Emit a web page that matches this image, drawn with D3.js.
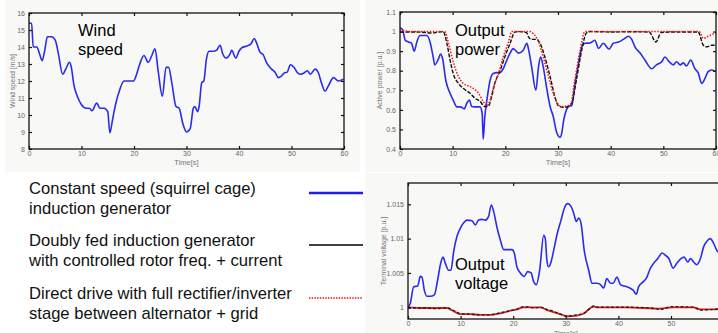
<!DOCTYPE html>
<html>
<head>
<meta charset="utf-8">
<script src="https://cdn.jsdelivr.net/npm/d3@7"></script>
<style>
  body { margin: 0; background: #fff; }
  svg { display: block; font-family: "Liberation Sans", Arial, sans-serif; }
</style>
</head>
<body>
<div id="chart"></div>
<script>
// time axis shared by all three plots
const timeTicks = [0, 10, 20, 30, 40, 50, 60];

// wind speed [m/s] as [time, value]
const windSpeed = [
  [0, 15.4], [0.5, 15.4], [0.8, 14.0], [1.5, 14.0], [2, 13.6], [2.5, 13.2], [3, 13.8], [3.5, 14.6],
  [4.3, 14.6], [5, 14.4], [5.6, 13.6], [6.4, 12.4], [7, 12.7], [7.7, 13.1], [8, 12.9], [8.6, 11.7],
  [9.2, 11.1], [10, 10.6], [10.9, 10.4], [11.5, 10.4], [12, 10.25], [12.9, 10.7], [13.5, 10.4],
  [14.3, 10.4], [15, 10.2], [15.4, 8.95], [15.9, 9.7], [16.4, 10.5], [17.3, 11.5], [18.1, 12.0],
  [19.2, 12.0], [19.9, 12.0], [20.5, 12.4], [21.1, 13.0], [21.9, 13.5], [22.7, 13.1], [23.4, 13.5],
  [24, 13.9], [24.6, 12.6], [25.4, 11.1], [26.1, 12.8], [26.6, 12.8], [27.2, 11.9], [28, 10.5],
  [28.6, 10.4], [29.3, 9.5], [30, 9.0], [30.7, 9.2], [31.3, 10.4], [31.6, 10.5], [32.1, 10.2],
  [32.4, 10.5], [32.9, 11.9], [33.3, 12.0], [33.8, 13.3], [34.3, 13.75], [35.1, 13.75], [35.7, 13.8],
  [36.4, 14.1], [36.9, 13.6], [37.5, 13.35], [38.3, 13.6], [38.6, 13.8], [39.4, 13.35], [40, 13.75],
  [40.5, 13.95], [41.4, 14.05], [42.2, 14.15], [42.9, 14.5], [43.4, 14.2], [44, 13.7], [44.6, 13.55],
  [45.3, 13.05], [46.2, 12.7], [46.9, 12.5], [47.5, 12.2], [48.1, 12.3], [48.8, 12.5], [49.1, 12.5],
  [49.8, 12.95], [50.5, 12.8], [51.1, 12.5], [51.7, 12.4], [52.3, 12.45], [53, 12.6], [53.6, 12.4],
  [54.5, 12.7], [55.1, 12.5], [55.7, 11.9], [56.4, 11.4], [57, 11.7], [58, 12.2], [58.9, 12.0], [59.9, 12.1]
];
const windTicks = [8, 9, 10, 11, 12, 13, 14, 15, 16];

// active power [p.u.]
const powerSquirrel = [
  [0, 1.02], [0.5, 1.01], [1, 0.955], [1.6, 0.947], [2.2, 0.94], [2.7, 0.9], [3.2, 0.947], [3.8, 0.98],
  [5.1, 0.98], [5.7, 0.947], [6.3, 0.87], [6.6, 0.83], [7.3, 0.86], [7.7, 0.885], [8.1, 0.86],
  [8.7, 0.75], [9.5, 0.685], [10.1, 0.65], [10.8, 0.615], [11.5, 0.615], [12.2, 0.605], [12.7, 0.635],
  [13.2, 0.65], [13.6, 0.617], [14.2, 0.615], [15.2, 0.615], [15.6, 0.583], [15.8, 0.45], [16.1, 0.565],
  [16.5, 0.65], [17.1, 0.75], [17.7, 0.786], [18.4, 0.79], [19, 0.79], [19.6, 0.81], [20.3, 0.855],
  [20.9, 0.89], [21.5, 0.913], [22.5, 0.89], [23.4, 0.905], [24.1, 0.94], [24.4, 0.91], [25, 0.82],
  [25.8, 0.7], [26.3, 0.82], [26.7, 0.87], [27.2, 0.82], [27.8, 0.72], [28.5, 0.617], [29.1, 0.566],
  [29.7, 0.49], [30.4, 0.46], [30.7, 0.48], [31.1, 0.55], [31.6, 0.6], [32.2, 0.62], [32.6, 0.62],
  [33.2, 0.727], [33.9, 0.837], [34.5, 0.92], [35.1, 0.94], [36.1, 0.942], [37, 0.956], [37.7, 0.914],
  [38.6, 0.94], [39.7, 0.91], [40.5, 0.94], [41.5, 0.947], [42.4, 0.96], [43.4, 0.976], [44, 0.96],
  [44.6, 0.922], [45.6, 0.89], [46.5, 0.855], [47.8, 0.81], [48.7, 0.83], [49.7, 0.846], [50.3, 0.87],
  [51.1, 0.846], [51.9, 0.83], [52.5, 0.846], [53.2, 0.83], [53.8, 0.84], [54.4, 0.824], [55.2, 0.855],
  [56, 0.81], [56.6, 0.79], [57.3, 0.735], [57.9, 0.76], [58.5, 0.795], [59.2, 0.804], [59.9, 0.795]
];
const powerDoublyFed = [
  [0, 0.997], [2, 0.998], [4, 0.997], [6, 0.993], [7, 0.996], [8.2, 1.0], [8.9, 0.94], [9.5, 0.855],
  [10.1, 0.786], [11.1, 0.735], [12, 0.71], [13.3, 0.685], [14.2, 0.66], [15.2, 0.643], [16.1, 0.617],
  [16.8, 0.62], [17.4, 0.668], [18, 0.735], [19, 0.8], [19.9, 0.87], [20.9, 0.94], [21.8, 0.997],
  [22.5, 1.0], [24, 0.995], [24.4, 0.973], [25, 0.96], [25.9, 0.96], [26.6, 0.94], [27.5, 0.87],
  [28.5, 0.77], [29.4, 0.668], [30.1, 0.62], [31, 0.613], [32, 0.617], [32.6, 0.634], [33.5, 0.753],
  [34.5, 0.905], [35.4, 0.993], [36.1, 1.0], [40, 0.998], [44, 0.999], [47.3, 0.998], [48.6, 0.947],
  [49.6, 0.995], [52, 0.998], [56.6, 0.998], [57.6, 0.93], [58.2, 0.922], [59.2, 0.93], [60, 0.93]
];
const powerDirect = [
  [0, 1.01], [1, 1.003], [3, 1.0], [8.5, 1.0], [9.2, 0.94], [10.1, 0.846], [11.1, 0.77], [12, 0.735],
  [13, 0.722], [13.9, 0.71], [14.9, 0.685], [15.8, 0.643], [16.5, 0.62], [17.1, 0.65], [17.7, 0.71],
  [18.7, 0.786], [19.6, 0.87], [20.6, 0.947], [21.2, 1.0], [24.7, 1.0], [25.3, 0.99], [26.3, 0.947],
  [27.2, 0.87], [28.2, 0.77], [29.1, 0.685], [29.9, 0.634], [30.7, 0.617], [31.6, 0.62], [32.4, 0.63],
  [33.2, 0.753], [34.2, 0.905], [35.1, 1.0], [56.8, 1.0], [57.6, 0.965], [58.5, 0.976], [60, 0.995]
];
const powerTicks = [0.4, 0.5, 0.6, 0.7, 0.8, 0.9, 1.0, 1.1];

// terminal voltage [p.u.]
const voltageSquirrel = [
  [0, 1.0], [0.44, 1.0006], [1.08, 1.003], [1.84, 1.0031], [2.34, 1.0045], [2.66, 1.0044], [3.1, 1.0025],
  [3.6, 1.0016], [4.25, 1.0016], [5, 1.0018], [5.64, 1.004], [6.15, 1.0062], [6.65, 1.0073], [7.1, 1.0064],
  [7.73, 1.0054], [8.17, 1.0054], [8.68, 1.0081], [9.3, 1.0103], [9.95, 1.0115], [10.58, 1.0123],
  [11.2, 1.0127], [12.17, 1.0126], [12.8, 1.012], [13.43, 1.0127], [14.07, 1.0128], [14.7, 1.0127],
  [15.3, 1.0132], [15.84, 1.0149], [16.3, 1.0139], [16.9, 1.0117], [17.55, 1.0098], [18.2, 1.0084],
  [18.8, 1.0084], [19.77, 1.0084], [20.2, 1.0079], [20.7, 1.0059], [21.36, 1.005], [22.1, 1.0045],
  [22.75, 1.0052], [23.4, 1.005], [23.9, 1.0037], [24.4, 1.0033], [25.03, 1.0054], [25.8, 1.0105],
  [26.1, 1.01], [26.4, 1.0069], [26.7, 1.0059], [27.2, 1.0066], [27.7, 1.0083], [28.3, 1.0105],
  [29.1, 1.0127], [29.7, 1.0144], [30.35, 1.0151], [31, 1.0147], [31.5, 1.0137], [32, 1.0125],
  [32.45, 1.013], [32.9, 1.0122], [33.5, 1.0083], [34.35, 1.0054], [35, 1.0035], [35.9, 1.0035],
  [36.6, 1.0033], [37.2, 1.0028], [37.8, 1.0042], [38.5, 1.0035], [39, 1.0035], [39.7, 1.0044],
  [40.4, 1.0033], [41.1, 1.0031], [41.95, 1.0029], [42.8, 1.0025], [43.4, 1.0019], [43.85, 1.003],
  [44.7, 1.0037], [45.3, 1.0042], [46.1, 1.0057], [46.7, 1.0064], [47.5, 1.0071], [48.3, 1.0079],
  [48.9, 1.0076], [49.6, 1.0071], [50.4, 1.0057], [51.1, 1.0064], [51.9, 1.0071], [52.5, 1.0073],
  [53.2, 1.0066], [53.7, 1.0071], [54.3, 1.0066], [54.9, 1.0062], [55.6, 1.0071], [56.2, 1.0088],
  [56.8, 1.0096], [57.5, 1.01], [58.1, 1.0093], [58.9, 1.0081], [60, 1.0078]
];
const voltageDoublyFed = [
  [0, 0.9999], [3, 0.9999], [5, 0.9998], [7.5, 0.9999], [8, 0.9998], [9, 0.9994], [9.95, 0.9991],
  [11.85, 0.999], [13.75, 0.9989], [15.65, 0.9989], [17.55, 0.9992], [19.45, 0.9995], [20.7, 0.9997],
  [22, 1.0001], [23.25, 1.0], [24, 0.9999], [25.15, 1.0], [26.4, 0.9997], [27.7, 0.9994], [28.96, 0.999],
  [30.2, 0.9987], [32.1, 0.9989], [33.4, 0.9991], [34.7, 0.9999], [35.3, 1.0002], [35.9, 1.0],
  [41.6, 1.0], [46, 0.9999], [48, 0.9997], [50.2, 1.0001], [54.3, 1.0], [55.6, 0.9996], [58, 0.9997], [60, 0.9998]
];
const voltageDirect = [
  [0, 1.0], [3, 0.9999], [7.5, 0.9999], [8, 0.9997], [9, 0.9993], [9.95, 0.999], [11.85, 0.999],
  [13.75, 0.9989], [15.65, 0.9989], [17.55, 0.9991], [19.45, 0.9995], [20.7, 0.9997], [22, 1.0],
  [25.15, 1.0], [26.4, 0.9996], [27.7, 0.9993], [28.96, 0.999], [30.2, 0.9987], [32.1, 0.9988],
  [33.4, 0.9991], [34.7, 0.9999], [35.3, 1.0001], [35.9, 1.0], [41.6, 1.0], [48, 0.9998],
  [50.2, 1.0], [54.3, 1.0], [55.6, 0.9997], [58, 0.9997], [60, 0.9998]
];
const voltageTicks = [1, 1.005, 1.01, 1.015];

const legendLines = [
  ["Constant speed (squirrel cage)", "induction generator"],
  ["Doubly fed induction generator", "with controlled rotor freq. + current"],
  ["Direct drive with full rectifier/inverter", "stage between alternator + grid"]
];

const W = 718, H = 333;
const blue = "#2b2bef";

const svg = d3.select("#chart").append("svg")
  .attr("width", W).attr("height", H);

// pasted-in screenshots have a faint off-white backdrop
svg.append("rect").attr("x", 5).attr("y", 0).attr("width", 355).attr("height", 172).attr("fill", "#f8f8f6");
svg.append("rect").attr("x", 365).attr("y", 0).attr("width", 353).attr("height", 172).attr("fill", "#f8f8f6");
svg.append("rect").attr("x", 365).attr("y", 173).attr("width", 353).attr("height", 160).attr("fill", "#f8f8f6");

const fmt = d => String(+d.toFixed(3));

function panel(opts) {
  const { x, y, box, yTicks, yLabel, xLabelY, id } = opts;
  const g = svg.append("g");

  g.append("clipPath").attr("id", id)
    .append("rect").attr("x", box[0]).attr("y", box[1])
    .attr("width", box[2] - box[0]).attr("height", box[3] - box[1]);

  const plot = g.append("g").attr("clip-path", `url(#${id})`);
  const line = d3.line().x(d => x(d[0])).y(d => y(d[1])).curve(d3.curveMonotoneX);
  opts.series.forEach(s => {
    plot.append("path").datum(s.data)
      .attr("d", line)
      .attr("fill", "none")
      .attr("stroke", s.color)
      .attr("stroke-width", s.width)
      .attr("stroke-dasharray", s.dash || null);
  });

  // matlab style box with inward ticks on all sides
  const axisStyle = sel => {
    sel.select(".domain").remove();
    sel.selectAll(".tick line").attr("stroke", "#111").attr("stroke-width", 1.2);
    sel.selectAll(".tick text").attr("fill", "#666").attr("font-size", 7);
  };
  g.append("g").attr("transform", `translate(0,${box[3]})`)
    .call(d3.axisBottom(x).tickValues(timeTicks).tickSize(-3).tickPadding(2).tickFormat(fmt))
    .call(axisStyle);
  g.append("g").attr("transform", `translate(0,${box[1]})`)
    .call(d3.axisTop(x).tickValues(timeTicks).tickSize(-3).tickFormat(""))
    .call(axisStyle);
  g.append("g").attr("transform", `translate(${box[0]},0)`)
    .call(d3.axisLeft(y).tickValues(yTicks).tickSize(-3).tickPadding(4).tickFormat(fmt))
    .call(axisStyle);
  g.append("g").attr("transform", `translate(${box[2]},0)`)
    .call(d3.axisRight(y).tickValues(yTicks).tickSize(-3).tickFormat(""))
    .call(axisStyle);

  g.append("rect")
    .attr("x", box[0]).attr("y", box[1])
    .attr("width", box[2] - box[0]).attr("height", box[3] - box[1])
    .attr("fill", "none").attr("stroke", "#111").attr("stroke-width", 1.3);

  g.append("text")
    .attr("transform", `translate(${opts.yLabelX},${(box[1] + box[3]) / 2}) rotate(-90)`)
    .attr("text-anchor", "middle").attr("font-size", 7).attr("fill", "#777")
    .text(yLabel);
  g.append("text")
    .attr("x", x(30)).attr("y", xLabelY)
    .attr("text-anchor", "middle").attr("font-size", 7.5).attr("fill", "#777")
    .text("Time[s]");

  g.selectAll("text.note").data(opts.note).join("text")
    .attr("class", "note")
    .attr("x", opts.noteX).attr("y", (d, i) => opts.noteY + i * 19)
    .attr("font-size", 16.5).attr("fill", "#000")
    .text(d => d);
}

// wind speed
panel({
  id: "clipWind",
  x: d3.scaleLinear().domain([0, 60]).range([29, 344]),
  y: d3.scaleLinear().domain([8, 16]).range([149, 13]),
  box: [29, 13, 344, 149],
  yTicks: windTicks,
  yLabel: "Wind speed [m/s]",
  yLabelX: 15,
  xLabelY: 165,
  series: [{ data: windSpeed, color: blue, width: 1.6 }],
  note: ["Wind", "speed"], noteX: 78, noteY: 36
});

// output power
panel({
  id: "clipPower",
  x: d3.scaleLinear().domain([0, 60]).range([400, 716]),
  y: d3.scaleLinear().domain([0.4, 1.1]).range([149, 12]),
  box: [400, 12, 716, 149],
  yTicks: powerTicks,
  yLabel: "Active power [p.u.]",
  yLabelX: 382,
  xLabelY: 165,
  series: [
    { data: powerSquirrel, color: blue, width: 1.6 },
    { data: powerDoublyFed, color: "#111", width: 1.4, dash: "4,1.5" },
    { data: powerDirect, color: "#f01818", width: 1.5, dash: "1.5,1.5" }
  ],
  note: ["Output", "power"], noteX: 455, noteY: 36
});

// output voltage
const vy = d3.scaleLinear().domain([1, 1.015]).range([307.3, 204.3]);
panel({
  id: "clipVolt",
  x: d3.scaleLinear().domain([0, 60]).range([408, 723.6]),
  y: vy,
  box: [408, 183, 723.6, 319],
  yTicks: voltageTicks,
  yLabel: "Terminal voltage [p.u.]",
  yLabelX: 386,
  xLabelY: 336,
  series: [
    { data: voltageSquirrel, color: blue, width: 1.6 },
    { data: voltageDirect, color: "#f01818", width: 1.8 },
    { data: voltageDoublyFed, color: "#222", width: 1.4, dash: "3,2" }
  ],
  note: ["Output", "voltage"], noteX: 455, noteY: 270
});

// legend
const legendY = [194, 246, 299];
const legendSwatch = [
  { color: "#1d1df0", width: 2.4, dash: null },
  { color: "#000", width: 1.6, dash: null },
  { color: "#ff1010", width: 1.4, dash: "1.5,1.2" }
];
const leg = svg.append("g");
legendLines.forEach((lines, i) => {
  leg.append("text")
    .attr("x", 29).attr("y", legendY[i])
    .attr("font-size", 16.6).attr("fill", "#111")
    .selectAll("tspan").data(lines).join("tspan")
    .attr("x", 29).attr("dy", (d, j) => j ? 20 : 0)
    .text(d => d);
  leg.append("line")
    .attr("x1", 309).attr("x2", 363)
    .attr("y1", legendY[i] - 1).attr("y2", legendY[i] - 1)
    .attr("stroke", legendSwatch[i].color)
    .attr("stroke-width", legendSwatch[i].width)
    .attr("stroke-dasharray", legendSwatch[i].dash);
});
</script>
</body>
</html>
